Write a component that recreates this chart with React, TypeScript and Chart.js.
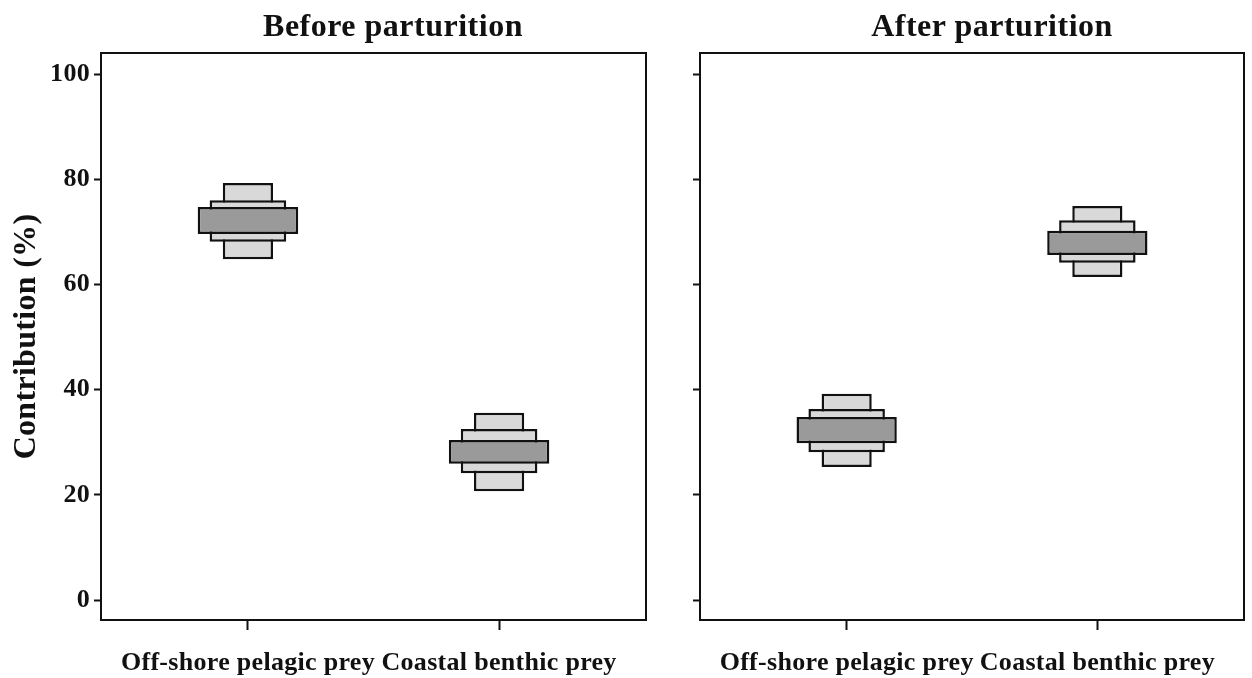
import { useEffect, useRef } from 'react';
import { Chart, registerables } from 'chart.js';

Chart.register(...registerables);

// ---- data ----
const categories = ['Off-shore pelagic prey', 'Coastal benthic prey'];
const categoryPositions = [1, 2];
const yTickValues = [0, 20, 40, 60, 80, 100];
const panelTitles = ['Before parturition', 'After parturition'];
const yAxisTitle = 'Contribution (%)';

// credibility intervals [low, high] per category
const before50 = [[69.6, 74.7], [25.9, 30.4]];
const before75 = [[68.1, 76.0], [24.1, 32.5]];
const before95 = [[64.8, 79.3], [20.7, 35.6]];
const after50 = [[29.8, 34.8], [65.6, 70.2]];
const after75 = [[28.1, 36.3], [64.1, 72.2]];
const after95 = [[25.3, 39.2], [61.4, 74.9]];

const FONT = "'Liberation Serif', 'Times New Roman', serif";
const INK = '#111111';
const DARK = '#9a9a9a';
const LIGHT = '#d9d9d9';
const SPACING = '0.3px';

const framePlugin = {
  id: 'frame',
  beforeInit(chart: any) {
    try { chart.ctx.letterSpacing = SPACING; } catch (e) { /* ignore */ }
  },
  beforeDraw(chart: any) {
    try { chart.ctx.letterSpacing = SPACING; } catch (e) { /* ignore */ }
  },
  afterDraw(chart: any) {
    const { ctx, chartArea } = chart;
    ctx.save();
    ctx.strokeStyle = INK;
    ctx.lineWidth = 2;
    ctx.strokeRect(chartArea.left, chartArea.top, chartArea.right - chartArea.left, chartArea.bottom - chartArea.top);
    ctx.restore();
  },
};

function toPoints(arr: number[][]) {
  return categoryPositions.map((x, i) => ({ x, y: arr[i] }));
}

function makeConfig(s50: number[][], s75: number[][], s95: number[][], showY: boolean, yWidth: number, padRight: number) {
  const box = (data: number[][], color: string, pct: number, label: string) => ({
    label,
    data: toPoints(data),
    backgroundColor: color,
    borderColor: INK,
    borderWidth: 2.5,
    borderSkipped: false,
    grouped: false,
    categoryPercentage: 1,
    barPercentage: pct,
  });
  return {
    type: 'bar',
    data: {
      datasets: [
        box(s50, DARK, 0.4, '50%'),
        box(s75, LIGHT, 0.305, '75%'),
        box(s95, LIGHT, 0.2, '95%'),
      ],
    },
    options: {
      animation: false,
      responsive: false,
      maintainAspectRatio: false,
      layout: { padding: { left: 0, right: padRight, top: 53, bottom: 0 } },
      plugins: { legend: { display: false }, tooltip: { enabled: false }, title: { display: false } },
      scales: {
        x: {
          type: 'linear',
          min: 0.415,
          max: 2.585,
          offset: false,
          afterBuildTicks: (axis: any) => { axis.ticks = categoryPositions.map((v) => ({ value: v })); },
          afterFit: (axis: any) => { axis.height = 58; },
          ticks: {
            callback: (v: any) => categories[categoryPositions.indexOf(Number(v))],
            font: { family: FONT, size: 26, weight: 'bold' },
            color: INK,
            padding: 18,
            maxRotation: 0,
            autoSkip: false,
          },
          grid: { drawOnChartArea: false, drawTicks: true, tickLength: 10, tickWidth: 2, tickColor: INK, offset: false },
          border: { display: false },
        },
        y: {
          type: 'linear',
          min: -3.8,
          max: 104,
          afterBuildTicks: (axis: any) => { axis.ticks = yTickValues.map((v) => ({ value: v })); },
          afterFit: (axis: any) => { axis.width = yWidth; },
          ticks: {
            display: showY,
            font: { family: FONT, size: 26, weight: 'bold' },
            color: INK,
            padding: 4,
          },
          grid: { drawOnChartArea: false, drawTicks: true, tickLength: 7, tickWidth: 2, tickColor: INK },
          border: { display: false },
          title: {
            display: showY,
            text: yAxisTitle,
            font: { family: FONT, size: 32, weight: 'bold' },
            color: INK,
            padding: { top: 8, bottom: 0 },
          },
        },
      },
    },
    plugins: [framePlugin],
  } as any;
}

function Panel({ config, left, width }: { config: any; left: number; width: number }) {
  const ref = useRef<HTMLCanvasElement | null>(null);
  useEffect(() => {
    if (!ref.current) return;
    const chart = new Chart(ref.current, config);
    return () => chart.destroy();
  }, [config]);
  return (
    <canvas
      ref={ref}
      width={width}
      height={678}
      style={{ position: 'absolute', left, top: 0, width, height: 678 }}
    />
  );
}

const configBefore = makeConfig(before50, before75, before95, true, 101, 14);
const configAfter = makeConfig(after50, after75, after95, false, 40, 8);

const titleStyle = (centerX: number): any => ({
  position: 'absolute',
  left: centerX - 200,
  width: 400,
  top: 7,
  lineHeight: '36px',
  fontSize: 32,
  fontWeight: 'bold',
  fontFamily: FONT,
  letterSpacing: '0.5px',
  textAlign: 'center',
  color: INK,
});

export default function App() {
  return (
    <div style={{ position: 'absolute', left: 0, top: 0, width: 1252, height: 678, background: '#fff', overflow: 'hidden' }}>
      <Panel config={configBefore} left={0} width={660} />
      <Panel config={configAfter} left={660} width={592} />
      <div style={titleStyle(393)}>{panelTitles[0]}</div>
      <div style={titleStyle(992)}>{panelTitles[1]}</div>
    </div>
  );
}
